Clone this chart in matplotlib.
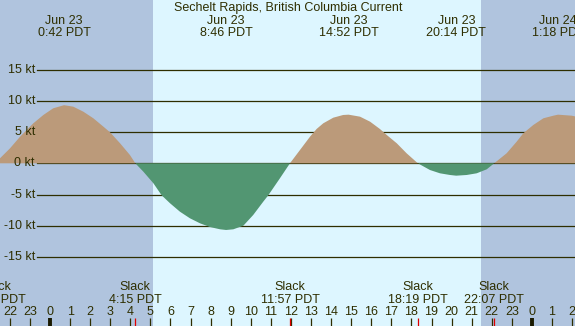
import matplotlib
matplotlib.use("Agg")
import matplotlib.pyplot as plt
import numpy as np

# ---- data ----
title = "Sechelt Rapids, British Columbia Current"

# curve samples (hours since Jun 23 00:00 PDT, knots)
hours = [-2.70, -2.49, -1.99, -1.49, -0.83, -0.33, 0.16, 0.70, 1.16, 1.66,
         2.16, 2.66, 2.99, 3.49, 3.98, 4.25, 4.65, 5.15, 5.56, 5.98,
         6.47, 6.97, 7.47, 7.97, 8.47, 8.77, 9.13, 9.63, 10.12, 10.62,
         10.87, 11.45, 11.95, 12.45, 12.95, 13.28, 13.61, 14.11, 14.60, 14.87,
         15.44, 15.94, 16.43, 16.77, 17.27, 17.76, 18.32, 18.92, 19.42, 19.92,
         20.23, 20.75, 21.25, 21.75, 22.12, 22.74, 23.24, 23.57, 24.07, 24.57,
         25.07, 25.30, 25.98, 26.30]
speeds = [0.0, 0.8, 2.4, 4.26, 6.4, 7.73, 8.8, 9.3, 9.06, 8.26,
          7.2, 5.86, 4.96, 3.2, 1.33, 0.0, -1.34, -3.2, -5.12, -6.4,
          -7.74, -8.8, -9.6, -10.2, -10.56, -10.67, -10.56, -9.98, -8.27, -6.14,
          -5.12, -2.4, 0.0, 2.13, 4.26, 5.5, 6.4, 7.3, 7.73, 7.78,
          7.46, 6.66, 5.49, 4.53, 3.2, 1.6, 0.0, -1.07, -1.6, -1.87,
          -1.98, -1.87, -1.6, -0.96, 0.0, 1.6, 3.46, 4.8, 6.13, 7.2,
          7.62, 7.78, 7.62, 7.4]

# max-current events (top labels)
max_hours = [0.70, 8.767, 14.867, 20.233, 25.30]
max_dates = ["Jun 23", "Jun 23", "Jun 23", "Jun 23", "Jun 24"]
max_times = ["0:42 PDT", "8:46 PDT", "14:52 PDT", "20:14 PDT", "1:18 PDT"]

# slack events (bottom labels)
slack_hours = [-2.70, 4.25, 11.95, 18.317, 22.117]
slack_times = ["21:18 PDT", "4:15 PDT", "11:57 PDT", "18:19 PDT", "22:07 PDT"]

# daylight
sunrise = 5.13
sunset = 21.46

# y grid
y_levels = [15, 10, 5, 0, -5, -10, -15]
y_labels = ["15 kt", "10 kt", "5 kt", "0 kt", "-5 kt", "-10 kt", "-15 kt"]

# hour ticks
tick_hours = list(range(-2, 27))
tick_labels = [str(h % 24) for h in tick_hours]

# ---- styling ----
W, H = 575, 326
DPI = 100
night = "#B0C4DE"
day = "#DDF6FF"
flood = "#BB9A7A"
ebb = "#529672"
ink = "#2E2E00"
font = ["Liberation Sans", "DejaVu Sans"]
fs = 9

fig = plt.figure(figsize=(W / DPI, H / DPI), dpi=DPI)
ax = fig.add_axes([0, 0, 1, 1])

# pixel mapping: x = 50 + 20.08*h ; y = 163.3 - 6.25*v
px_per_h = 20.08
x0 = 50.0
px_per_kt = 6.25
y0 = 163.3
xmin = (0 - x0) / px_per_h
xmax = (W - x0) / px_per_h
ymax = y0 / px_per_kt
ymin = -(H - y0) / px_per_kt
ax.set_xlim(xmin, xmax)
ax.set_ylim(ymin, ymax)
ax.axis("off")

def ypx(p):  # pixel row from top -> data y
    return (y0 - p) / px_per_kt

# background
ax.axvspan(xmin, sunrise, color=night, zorder=0, lw=0)
ax.axvspan(sunrise, sunset, color=day, zorder=0, lw=0)
ax.axvspan(sunset, xmax, color=night, zorder=0, lw=0)

# grid lines and labels
for lv, lb in zip(y_levels, y_labels):
    ax.axhline(lv, xmin=37 / W, xmax=1, color=ink, lw=0.9, zorder=1)
    ax.text((35 - x0) / px_per_h, lv, lb, ha="right", va="center",
            color=ink, fontsize=fs, family=font, zorder=3)

# curve fills
hh = np.array(hours)
vv = np.array(speeds)
ax.fill_between(hh, vv, 0, where=vv >= 0, interpolate=True,
                color=flood, lw=0, zorder=2)
ax.fill_between(hh, vv, 0, where=vv <= 0, interpolate=True,
                color=ebb, lw=0, zorder=2)

# title
ax.text((288 - x0) / px_per_h, ypx(7.5), title, ha="center", va="center",
        color=ink, fontsize=fs, family=font, zorder=4)

# top labels
for h, d, t in zip(max_hours, max_dates, max_times):
    ax.text(h, ypx(20.5), d, ha="center", va="center", color=ink,
            fontsize=fs, family=font, zorder=4)
    ax.text(h, ypx(32.5), t, ha="center", va="center", color=ink,
            fontsize=fs, family=font, zorder=4)

# slack labels
for h, t in zip(slack_hours, slack_times):
    ax.text(h, ypx(287), "Slack", ha="center", va="center", color=ink,
            fontsize=fs, family=font, zorder=4)
    ax.text(h, ypx(300), t, ha="center", va="center", color=ink,
            fontsize=fs, family=font, zorder=4)

# hour ticks
for h, lb in zip(tick_hours, tick_labels):
    ax.text(h, ypx(312), lb, ha="center", va="center", color=ink,
            fontsize=fs, family=font, zorder=4)
    if h % 24 == 0:
        ax.plot([h, h], [ypx(318), ypx(326)], color="#1a1a00", lw=2.8,
                solid_capstyle="butt", zorder=4)
    else:
        ax.plot([h, h], [ypx(318), ypx(326)], color=ink, lw=0.9,
                solid_capstyle="butt", zorder=4)

# slack ticks (red)
for h in slack_hours:
    ax.plot([h, h], [ypx(318), ypx(326)], color="#E00000", lw=0.9,
            solid_capstyle="butt", zorder=5)

fig.savefig("out.png", dpi=DPI)
